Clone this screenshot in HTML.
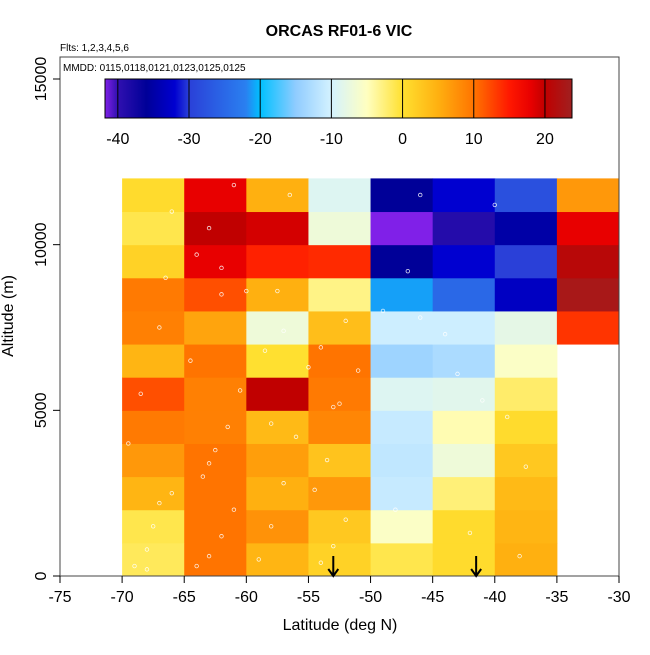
<!DOCTYPE html>
<html><head><meta charset="utf-8"><style>
body{margin:0;background:#fff;}
svg text{font-family:"Liberation Sans",sans-serif;}
</style></head><body>
<svg id="chart" width="650" height="650" xmlns="http://www.w3.org/2000/svg">
<text x="339" y="36" text-anchor="middle" font-size="16" font-weight="bold">ORCAS RF01-6 VIC</text>
<text x="60" y="51" font-size="10">Flts: 1,2,3,4,5,6</text>
<g id="cells"></g>
<g id="pts"></g>
<rect x="60" y="57" width="559" height="519" fill="none" stroke="#444" stroke-width="1"/>
<text x="63" y="71" font-size="10">MMDD: 0115,0118,0121,0123,0125,0125</text>
<defs><linearGradient id="cb" x1="0" x2="1"></linearGradient></defs>
<rect id="cbar" y="79" height="39" fill="url(#cb)" stroke="#000"/>
<g id="cbticks"></g>
<g id="xaxis"></g>
<g id="yaxis"></g>
<g id="arrows"></g>
<text x="340" y="630" text-anchor="middle" font-size="16">Latitude (deg N)</text>
<text transform="translate(13,316) rotate(-90)" text-anchor="middle" font-size="16">Altitude (m)</text>
</svg>
<script>
const latBins = [-70,-65,-60,-55,-50,-45,-40,-35];
const altBins = [0,1000,2000,3000,4000,5000,6000,7000,8000,9000,10000,11000];
// temperature values: rows from bottom (0-1 km) upward, columns by latitude bin
const tempRows = [
 [-1.5,10,4.5,1.5,-1,0.5,5,null],
 [-1,10,7.5,2.5,-5.5,0.5,4.5,null],
 [4.5,10,5,7,-11,-2.5,4,null],
 [7,10,6.5,3,-11.5,-7,2.5,null],
 [9.5,9,4,8.5,-11,-4.5,0.5,null],
 [12,9,20,9.5,-9,-8.5,-2,null],
 [4.5,10,0,10,-14,-13,-5.5,null],
 [9,6,-7,3.5,-10.5,-10.5,-8,13.5],
 [9.5,12,5,-3,-21,-25,-33,23],
 [1.5,18,14.5,14,-36,-32,-30,21],
 [-1,20,19,-7,-42,-39,-35,18],
 [0.5,18,5,-9,-36,-32,-28,7]
];
const xTicks = [-75,-70,-65,-60,-55,-50,-45,-40,-35,-30];
const yTicks = [0,5000,10000,15000];
const cbTicks = [-40,-30,-20,-10,0,10,20];
const arrowLats = [-53,-41.5];
const ptLat = [-69,-68,-67.5,-66,-69.5,-68.5,-67,-66.5,-64,-63,-62,-61,-63.5,-62.5,-61.5,-60.5,-64.5,-62,-63,-61,-59,-58,-57,-56,-58.5,-57.5,-56.5,-54,-53,-52,-54.5,-53.5,-52.5,-51,-49,-47,-46,-44,-43,-41,-39,-37.5,-48,-42,-38,-66,-64,-62,-60,-57,-55,-53,-68,-67,-63,-58,-54,-52,-46,-40];
const ptAlt = [300,800,1500,2500,4000,5500,7500,9000,300,600,1200,2000,3000,3800,4500,5600,6500,8500,10500,11800,500,1500,2800,4200,6800,8600,11500,400,900,1700,2600,3500,5200,6200,8000,9200,7800,7300,6100,5300,4800,3300,2000,1300,600,11000,9700,9300,8600,7400,6300,5100,200,2200,3400,4600,6900,7700,11500,11200];
const sx = v => 60 + (v + 75) * 559 / 45;
const sy = v => 576 - v * 497 / 15000;
const NS = "http://www.w3.org/2000/svg";
function mk(tag, attrs, parent){const e=document.createElementNS(NS,tag);for(const k in attrs)e.setAttribute(k,attrs[k]);parent.appendChild(e);return e;}
const cmapV = [-42,-40,-36,-32,-30,-22,-20,-15,-10,-5,0,5,10,15,18,20,24];
const cmapC = ["#8020e8","#3010b0","#000098","#0000d0","#2a40d8","#2a80f0","#00c0ff","#90ccff","#d4f2ff","#ffffc0","#ffe030","#ffb010","#ff7400","#ff1800","#e80000","#c00000","#a02020"];
function hex(c){return [1,3,5].map(i=>parseInt(c.substr(i,2),16));}
function color(v){
  if(v<=cmapV[0])return cmapC[0];
  for(let i=1;i<cmapV.length;i++){if(v<=cmapV[i]){const t=(v-cmapV[i-1])/(cmapV[i]-cmapV[i-1]);const a=hex(cmapC[i-1]),b=hex(cmapC[i]);return "rgb("+a.map((x,j)=>Math.round(x+(b[j]-x)*t)).join(",")+")";}}
  return cmapC[cmapC.length-1];
}
const cells=document.getElementById("cells");
tempRows.forEach((row,r)=>row.forEach((v,c)=>{
  if(v===null)return;
  const x0=sx(latBins[c]),x1=sx(latBins[c]+5),y0=sy(altBins[r]+1000),y1=sy(altBins[r]);
  const e=mk("rect",{x:x0,y:y0,width:x1-x0+0.5,height:y1-y0+0.5,fill:color(v)},cells);
  
  
}));
const pts=document.getElementById("pts");
ptLat.forEach((la,i)=>{
  const e=mk("circle",{cx:sx(la),cy:sy(ptAlt[i]),r:1.8,fill:"none",stroke:"#fff","stroke-width":0.8,opacity:0.85},pts);
  
  
});
// colorbar
const cbMin=-41.8,cbMax=23.8,cbx0=105,cbx1=572;
const cbx=v=>cbx0+(v-cbMin)/(cbMax-cbMin)*(cbx1-cbx0);
const cbar=document.getElementById("cbar");cbar.setAttribute("x",cbx0);cbar.setAttribute("width",cbx1-cbx0);
const grad=document.getElementById("cb");
cmapV.forEach((v,i)=>mk("stop",{offset:Math.max(0,Math.min(1,(v-cbMin)/(cbMax-cbMin))),"stop-color":cmapC[i]},grad));
const cbt=document.getElementById("cbticks");
cbTicks.forEach(v=>{
  mk("line",{x1:cbx(v),x2:cbx(v),y1:79,y2:118,stroke:"#000","stroke-width":1},cbt);
  const t=mk("text",{x:cbx(v),y:144,"text-anchor":"middle","font-size":16},cbt);t.textContent=v;
  
  
});
const xa=document.getElementById("xaxis");
xTicks.forEach(v=>{
  mk("line",{x1:sx(v),x2:sx(v),y1:576,y2:583,stroke:"#000"},xa);
  const t=mk("text",{x:sx(v),y:602,"text-anchor":"middle","font-size":16},xa);t.textContent=v;
  
  
});
const ya=document.getElementById("yaxis");
yTicks.forEach(v=>{
  mk("line",{x1:53,x2:60,y1:sy(v),y2:sy(v),stroke:"#000"},ya);
  const t=mk("text",{transform:"translate(46,"+sy(v)+") rotate(-90)","text-anchor":"middle","font-size":16},ya);t.textContent=v;
  
  
});
const ar=document.getElementById("arrows");
arrowLats.forEach(la=>{
  const x=sx(la);
  const g=mk("path",{d:`M${x},556 L${x},576 M${x-5},569 L${x},576 L${x+5},569`,stroke:"#000","stroke-width":2,fill:"none"},ar);
  
  
});
</script>
</body></html>
